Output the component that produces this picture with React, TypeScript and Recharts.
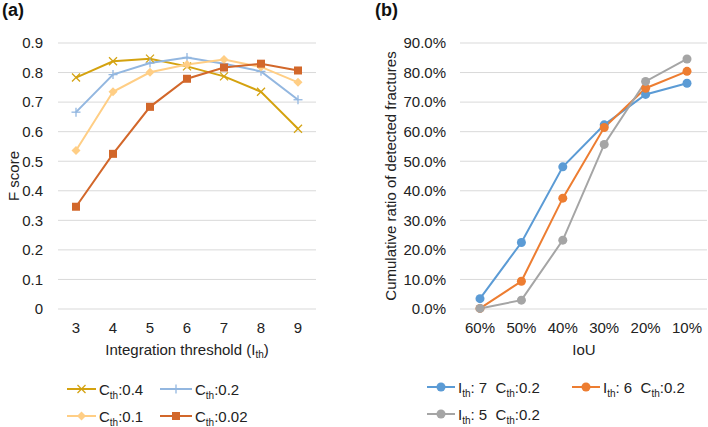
import { LineChart, Line, XAxis, YAxis, CartesianGrid, Label } from 'recharts';

const thresholds = ['3', '4', '5', '6', '7', '8', '9'];
const cth04 = [0.783, 0.838, 0.847, 0.821, 0.787, 0.735, 0.61];
const cth02 = [0.666, 0.793, 0.832, 0.851, 0.83, 0.804, 0.708];
const cth01 = [0.536, 0.735, 0.801, 0.827, 0.844, 0.819, 0.767];
const cth002 = [0.346, 0.525, 0.684, 0.779, 0.817, 0.83, 0.807];
const fTicks = [0, 0.1, 0.2, 0.3, 0.4, 0.5, 0.6, 0.7, 0.8, 0.9];

const iouLabels = ['60%', '50%', '40%', '30%', '20%', '10%'];
const ith7 = [3.5, 22.5, 48.1, 62.3, 72.6, 76.4];
const ith6 = [0.2, 9.4, 37.5, 61.4, 74.7, 80.4];
const ith5 = [0.2, 3.0, 23.3, 55.7, 77.0, 84.6];
const ratioTicks = [0, 10, 20, 30, 40, 50, 60, 70, 80, 90];

const GOLD = '#D4A20F';
const LBLUE = '#93B7E0';
const LORANGE = '#FFCE85';
const DORANGE = '#D2672A';
const BLUE = '#5B9BD5';
const ORANGE = '#ED7D31';
const GRAY = '#A5A5A5';
const FONT = '"Liberation Sans", Arial, sans-serif';

const fData = thresholds.map((t, i) => ({ t, a: cth04[i], b: cth02[i], c: cth01[i], d: cth002[i] }));
const iouData = iouLabels.map((t, i) => ({ t, a: ith7[i], b: ith6[i], c: ith5[i] }));

const xMark = (color: string) => (p: any) => (
  <g key={`x-${p.index}`}>
    <line x1={p.cx - 4} y1={p.cy - 4} x2={p.cx + 4} y2={p.cy + 4} stroke={color} strokeWidth={1.3} />
    <line x1={p.cx - 4} y1={p.cy + 4} x2={p.cx + 4} y2={p.cy - 4} stroke={color} strokeWidth={1.3} />
  </g>
);
const plusMark = (color: string) => (p: any) => (
  <g key={`p-${p.index}`}>
    <line x1={p.cx - 4.5} y1={p.cy} x2={p.cx + 4.5} y2={p.cy} stroke={color} strokeWidth={1.3} />
    <line x1={p.cx} y1={p.cy - 4.5} x2={p.cx} y2={p.cy + 4.5} stroke={color} strokeWidth={1.3} />
  </g>
);
const diamondMark = (color: string) => (p: any) => (
  <polygon key={`d-${p.index}`} points={`${p.cx},${p.cy - 4.5} ${p.cx + 4.5},${p.cy} ${p.cx},${p.cy + 4.5} ${p.cx - 4.5},${p.cy}`} fill={color} />
);
const squareMark = (color: string) => (p: any) => (
  <rect key={`s-${p.index}`} x={p.cx - 4} y={p.cy - 4} width={8} height={8} fill={color} />
);
const circleMark = (color: string) => (p: any) => (
  <circle key={`c-${p.index}`} cx={p.cx} cy={p.cy} r={4.5} fill={color} />
);

const tickStyle = { fontSize: 15, fill: '#222', fontFamily: FONT };

function Sub({ children }: { children: string }) {
  return <span style={{ fontSize: 10, position: 'relative', top: 4 }}>{children}</span>;
}

function LegendItem({ x, y, color, icon, width, children }: any) {
  return (
    <div style={{ position: 'absolute', left: x, top: y - 10, height: 20, display: 'flex', alignItems: 'center', fontFamily: FONT, fontSize: 15, color: '#222', whiteSpace: 'pre' }}>
      <svg width={width} height={20} style={{ marginRight: 3 }}>
        <line x1={0} y1={10} x2={width} y2={10} stroke={color} strokeWidth={2} />
        {icon}
      </svg>
      <span>{children}</span>
    </div>
  );
}

export default function App() {
  return (
    <div style={{ position: 'absolute', left: 0, top: 0, width: 708, height: 427, background: '#fff', fontFamily: FONT }}>
      <div style={{ position: 'absolute', left: 2, top: 0, fontSize: 18, fontWeight: 'bold', color: '#111' }}>(a)</div>
      <div style={{ position: 'absolute', left: 375, top: 0, fontSize: 18, fontWeight: 'bold', color: '#111' }}>(b)</div>

      <div style={{ position: 'absolute', left: 0, top: 0 }}>
        <LineChart width={354} height={427} data={fData} margin={{ top: 43, right: 38, bottom: 88, left: 0 }}>
          <CartesianGrid vertical={false} stroke="#D9D9D9" strokeWidth={1} />
          <XAxis dataKey="t" tickLine={false} axisLine={false} tickSize={0} tickMargin={13} height={30} tick={tickStyle} padding={{ left: 18, right: 18 }} interval={0}>
            <Label content={() => (
              <text x={187} y={355} textAnchor="middle" fontSize={15} fontFamily={FONT} fill="#222">
                Integration threshold (I<tspan fontSize={10} dy={3}>th</tspan><tspan dy={-3}>)</tspan>
              </text>
            )} />
          </XAxis>
          <YAxis width={58} domain={[0, 0.9]} ticks={fTicks} tickLine={false} axisLine={false} tickSize={0} tickMargin={15} tick={tickStyle} tickFormatter={(v: number) => (v === 0 ? '0' : v.toFixed(1))}>
            <Label content={() => (
              <text x={19} y={176} transform="rotate(-90 19 176)" textAnchor="middle" fontSize={15} fontFamily={FONT} fill="#222">F score</text>
            )} />
          </YAxis>
          <Line dataKey="a" stroke={GOLD} strokeWidth={2} dot={xMark(GOLD)} isAnimationActive={false} />
          <Line dataKey="b" stroke={LBLUE} strokeWidth={2} dot={plusMark(LBLUE)} isAnimationActive={false} />
          <Line dataKey="c" stroke={LORANGE} strokeWidth={2} dot={diamondMark(LORANGE)} isAnimationActive={false} />
          <Line dataKey="d" stroke={DORANGE} strokeWidth={2} dot={squareMark(DORANGE)} isAnimationActive={false} />
        </LineChart>
      </div>

      <div style={{ position: 'absolute', left: 354, top: 0 }}>
        <LineChart width={354} height={427} data={iouData} margin={{ top: 43, right: 1, bottom: 88, left: 0 }}>
          <CartesianGrid vertical={false} stroke="#D9D9D9" strokeWidth={1} />
          <XAxis dataKey="t" tickLine={false} axisLine={false} tickSize={0} tickMargin={13} height={30} tick={tickStyle} padding={{ left: 20, right: 20 }} interval={0}>
            <Label content={() => (
              <text x={230} y={355} textAnchor="middle" fontSize={15} fontFamily={FONT} fill="#222">IoU</text>
            )} />
          </XAxis>
          <YAxis width={106} domain={[0, 90]} ticks={ratioTicks} tickLine={false} axisLine={false} tickSize={0} tickMargin={14} tick={tickStyle} tickFormatter={(v: number) => `${v.toFixed(1)}%`}>
            <Label content={() => (
              <text x={42} y={176} transform="rotate(-90 42 176)" textAnchor="middle" fontSize={15} fontFamily={FONT} fill="#222">Cumulative ratio of detected fractures</text>
            )} />
          </YAxis>
          <Line dataKey="a" stroke={BLUE} strokeWidth={2} dot={circleMark(BLUE)} isAnimationActive={false} />
          <Line dataKey="b" stroke={ORANGE} strokeWidth={2} dot={circleMark(ORANGE)} isAnimationActive={false} />
          <Line dataKey="c" stroke={GRAY} strokeWidth={2} dot={circleMark(GRAY)} isAnimationActive={false} />
        </LineChart>
      </div>

      <LegendItem x={67} y={389} width={29} color={GOLD} icon={xMark(GOLD)({ cx: 14.5, cy: 10, index: 0 })}>C<Sub>th</Sub>:0.4</LegendItem>
      <LegendItem x={160} y={389} width={32} color={LBLUE} icon={plusMark(LBLUE)({ cx: 16, cy: 10, index: 0 })}>C<Sub>th</Sub>:0.2</LegendItem>
      <LegendItem x={67} y={416} width={29} color={LORANGE} icon={diamondMark(LORANGE)({ cx: 14.5, cy: 10, index: 0 })}>C<Sub>th</Sub>:0.1</LegendItem>
      <LegendItem x={160} y={416} width={32} color={DORANGE} icon={squareMark(DORANGE)({ cx: 16, cy: 10, index: 0 })}>C<Sub>th</Sub>:0.02</LegendItem>

      <LegendItem x={427} y={387} width={28} color={BLUE} icon={circleMark(BLUE)({ cx: 14, cy: 10, index: 0 })}>I<Sub>th</Sub>: 7  C<Sub>th</Sub>:0.2</LegendItem>
      <LegendItem x={572} y={387} width={28} color={ORANGE} icon={circleMark(ORANGE)({ cx: 14, cy: 10, index: 0 })}>I<Sub>th</Sub>: 6  C<Sub>th</Sub>:0.2</LegendItem>
      <LegendItem x={427} y={414} width={28} color={GRAY} icon={circleMark(GRAY)({ cx: 14, cy: 10, index: 0 })}>I<Sub>th</Sub>: 5  C<Sub>th</Sub>:0.2</LegendItem>
    </div>
  );
}
